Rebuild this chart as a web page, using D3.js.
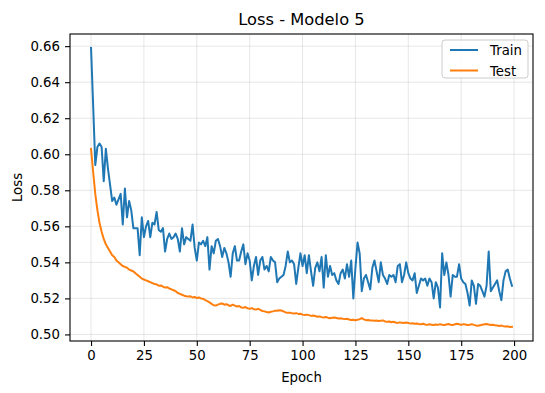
<!DOCTYPE html>
<html>
<head>
<meta charset="utf-8">
<script src="https://cdnjs.cloudflare.com/ajax/libs/d3/7.8.5/d3.min.js"></script>
<style>
  body { margin: 0; background: #fff; }
  text { font-family: "DejaVu Sans", sans-serif; fill: #000; }
</style>
</head>
<body>
<div id="chart"></div>
<script>
// Data ==========================

let title = "Loss - Modelo 5";
let xLabel = "Epoch";
let yLabel = "Loss";
let seriesNames = ["Train", "Test"];
let seriesColors = ["#1f77b4", "#ff7f0e"];
let xTicks = [0, 25, 50, 75, 100, 125, 150, 175, 200];
let yTicks = [0.50, 0.52, 0.54, 0.56, 0.58, 0.60, 0.62, 0.64, 0.66];

let trainLoss = [
  0.659, 0.627, 0.594, 0.604, 0.606, 0.604, 0.585, 0.603, 0.592, 0.583,
  0.574, 0.576, 0.572, 0.575, 0.578, 0.561, 0.581, 0.565, 0.574, 0.569,
  0.559, 0.559, 0.559, 0.544, 0.565, 0.554, 0.560, 0.563, 0.554, 0.562,
  0.561, 0.568, 0.558, 0.557, 0.559, 0.546, 0.553, 0.556, 0.553, 0.554,
  0.556, 0.553, 0.546, 0.559, 0.550, 0.554, 0.553, 0.552, 0.561, 0.548,
  0.541, 0.551, 0.550, 0.552, 0.549, 0.554, 0.536, 0.549, 0.545, 0.552,
  0.553, 0.549, 0.543, 0.548, 0.545, 0.540, 0.532, 0.545, 0.549, 0.541,
  0.541, 0.546, 0.550, 0.539, 0.545, 0.541, 0.530, 0.538, 0.543, 0.533,
  0.541, 0.543, 0.536, 0.538, 0.535, 0.543, 0.541, 0.540, 0.529, 0.531,
  0.532, 0.533, 0.538, 0.546, 0.540, 0.541, 0.539, 0.528, 0.537, 0.545,
  0.538, 0.544, 0.534, 0.544, 0.535, 0.527, 0.537, 0.540, 0.535, 0.543,
  0.526, 0.544, 0.532, 0.538, 0.533, 0.534, 0.530, 0.528, 0.534, 0.536,
  0.531, 0.539, 0.532, 0.541, 0.520, 0.537, 0.551, 0.545, 0.524, 0.531,
  0.533, 0.529, 0.525, 0.537, 0.541, 0.535, 0.529, 0.540, 0.533, 0.531,
  0.528, 0.533, 0.532, 0.533, 0.529, 0.538, 0.539, 0.529, 0.533, 0.540,
  0.534, 0.531, 0.530, 0.534, 0.523, 0.527, 0.531, 0.530, 0.531, 0.527,
  0.531, 0.529, 0.520, 0.529, 0.526, 0.515, 0.545, 0.533, 0.540, 0.533,
  0.521, 0.533, 0.532, 0.532, 0.539, 0.531, 0.529, 0.528, 0.523, 0.516,
  0.530, 0.527, 0.517, 0.528, 0.527, 0.524, 0.521, 0.527, 0.546, 0.524,
  0.526, 0.528, 0.530, 0.524, 0.519, 0.530, 0.535, 0.536, 0.531, 0.527
];

let testLoss = [
  0.603, 0.590, 0.578, 0.569, 0.562, 0.557, 0.553, 0.550, 0.548, 0.546,
  0.544, 0.543, 0.541, 0.540, 0.539, 0.538, 0.5375, 0.537, 0.536, 0.5355,
  0.535, 0.534, 0.533, 0.532, 0.531, 0.5305, 0.530, 0.5295, 0.529, 0.5285,
  0.528, 0.5278, 0.527, 0.5272, 0.5265, 0.526, 0.5262, 0.5255, 0.525, 0.5245,
  0.524, 0.523, 0.5225, 0.522, 0.5215, 0.5212, 0.521, 0.5212, 0.5205, 0.5208,
  0.5202, 0.5205, 0.520, 0.5198, 0.519, 0.5185, 0.5178, 0.517, 0.5162, 0.516,
  0.5165, 0.517, 0.5172, 0.5165, 0.5168, 0.5162, 0.5158, 0.5165, 0.516, 0.5155,
  0.5158, 0.515, 0.5148, 0.5152, 0.5145, 0.5142, 0.5146, 0.514, 0.5138, 0.5142,
  0.5136, 0.513, 0.5128, 0.5125, 0.5122, 0.5126, 0.5128, 0.5132, 0.5131, 0.5134,
  0.5133, 0.5128, 0.5122, 0.512, 0.5121, 0.5118, 0.5116, 0.5118, 0.5114, 0.5115,
  0.511, 0.5108, 0.511, 0.5107, 0.5103, 0.5105, 0.5102, 0.5098, 0.510, 0.5096,
  0.5094, 0.5097, 0.5093, 0.509, 0.5092, 0.5094, 0.5091, 0.5088, 0.509, 0.5087,
  0.5085, 0.5087, 0.5083, 0.508, 0.5082, 0.5079, 0.5081, 0.5085, 0.5091, 0.5084,
  0.5079, 0.508, 0.5077, 0.5078, 0.5076, 0.5077, 0.5074, 0.5076, 0.5078, 0.5072,
  0.507, 0.5072, 0.5068, 0.507, 0.5066, 0.5064, 0.5067, 0.5065, 0.5063, 0.5066,
  0.5064, 0.506, 0.5062, 0.5059, 0.5061, 0.5058, 0.5056, 0.5059, 0.5055, 0.5053,
  0.5056, 0.5054, 0.5052, 0.5055, 0.5053, 0.5057, 0.5054, 0.5052, 0.5055, 0.5058,
  0.5054, 0.5052, 0.5056, 0.5059, 0.5056, 0.5053, 0.5057, 0.5055, 0.5052, 0.5054,
  0.5057, 0.5053, 0.505, 0.5048, 0.5051, 0.5054, 0.5056, 0.5058, 0.5055, 0.5052,
  0.5054, 0.5051, 0.5049, 0.5047, 0.5049, 0.5046, 0.5044, 0.5045, 0.5041, 0.5042
];

// Layout ========================

let svgWidth = 545;
let svgHeight = 393;
let margin = { top: 34, right: 12, bottom: 52, left: 70 };
let width = svgWidth - margin.left - margin.right;
let height = svgHeight - margin.top - margin.bottom;

let svg = d3.select("#chart").append("svg")
  .attr("width", svgWidth)
  .attr("height", svgHeight);

let chartGroup = svg.append("g")
  .attr("transform", `translate(${margin.left}, ${margin.top})`);

// Scales (matplotlib style 5% margins) =====

let allSeries = [trainLoss, testLoss];
let n = trainLoss.length;
let xPad = (n - 1) * 0.05;
let xScale = d3.scaleLinear()
  .domain([-xPad, n - 1 + xPad])
  .range([0, width]);

let yMin = d3.min(allSeries, s => d3.min(s));
let yMax = d3.max(allSeries, s => d3.max(s));
let yPad = (yMax - yMin) * 0.05;
let yScale = d3.scaleLinear()
  .domain([yMin - yPad, yMax + yPad])
  .range([height, 0]);

// Grid ==========================

chartGroup.append("g")
  .selectAll("line")
  .data(xTicks)
  .enter()
  .append("line")
  .attr("x1", d => xScale(d))
  .attr("x2", d => xScale(d))
  .attr("y1", 0)
  .attr("y2", height)
  .attr("stroke", "#b0b0b0")
  .attr("stroke-opacity", 0.3)
  .attr("stroke-width", 1);

chartGroup.append("g")
  .selectAll("line")
  .data(yTicks)
  .enter()
  .append("line")
  .attr("x1", 0)
  .attr("x2", width)
  .attr("y1", d => yScale(d))
  .attr("y2", d => yScale(d))
  .attr("stroke", "#b0b0b0")
  .attr("stroke-opacity", 0.3)
  .attr("stroke-width", 1);

// Lines =========================

let line = d3.line()
  .x((d, i) => xScale(i))
  .y(d => yScale(d));

allSeries.forEach((s, k) => {
  chartGroup.append("path")
    .datum(s)
    .attr("fill", "none")
    .attr("stroke", seriesColors[k])
    .attr("stroke-width", 2)
    .attr("stroke-linejoin", "round")
    .attr("stroke-linecap", "square")
    .attr("d", line);
});

// Axes ==========================

let xAxis = chartGroup.append("g")
  .attr("transform", `translate(0, ${height})`)
  .call(d3.axisBottom(xScale).tickValues(xTicks).tickSize(5).tickPadding(5).tickSizeOuter(0));

let yAxis = chartGroup.append("g")
  .call(d3.axisLeft(yScale).tickValues(yTicks).tickFormat(d3.format(".2f")).tickSize(5).tickPadding(5).tickSizeOuter(0));

[xAxis, yAxis].forEach(ax => {
  ax.select(".domain").remove();
  ax.selectAll("line").attr("stroke", "#000").attr("stroke-width", 1.1);
  ax.selectAll("text")
    .attr("font-family", "DejaVu Sans, sans-serif")
    .attr("font-size", "13.3px")
    .attr("fill", "#000");
});

// frame
chartGroup.append("rect")
  .attr("x", 0)
  .attr("y", 0)
  .attr("width", width)
  .attr("height", height)
  .attr("fill", "none")
  .attr("stroke", "#000")
  .attr("stroke-width", 1.1);

// Labels ========================

svg.append("text")
  .attr("x", margin.left + width / 2)
  .attr("y", 25)
  .attr("text-anchor", "middle")
  .attr("font-size", "16.3px")
  .text(title);

svg.append("text")
  .attr("x", margin.left + width / 2)
  .attr("y", 382)
  .attr("text-anchor", "middle")
  .attr("font-size", "13.3px")
  .text(xLabel);

svg.append("text")
  .attr("transform", `translate(22, ${margin.top + height / 2}) rotate(-90)`)
  .attr("text-anchor", "middle")
  .attr("font-size", "13.3px")
  .text(yLabel);

// Legend ========================

let legend = chartGroup.append("g")
  .attr("transform", `translate(${width - 91}, 6)`);

legend.append("rect")
  .attr("width", 86)
  .attr("height", 38)
  .attr("rx", 3)
  .attr("fill", "#fff")
  .attr("fill-opacity", 0.8)
  .attr("stroke", "#cccccc")
  .attr("stroke-width", 1);

seriesNames.forEach((name, k) => {
  let row = legend.append("g")
    .attr("transform", `translate(8, ${10 + k * 20.5})`);
  row.append("line")
    .attr("x1", 0)
    .attr("x2", 28)
    .attr("y1", 0)
    .attr("y2", 0)
    .attr("stroke", seriesColors[k])
    .attr("stroke-width", 2);
  row.append("text")
    .attr("x", 40)
    .attr("y", 5)
    .attr("font-size", "13.3px")
    .text(name);
});
</script>
</body>
</html>
